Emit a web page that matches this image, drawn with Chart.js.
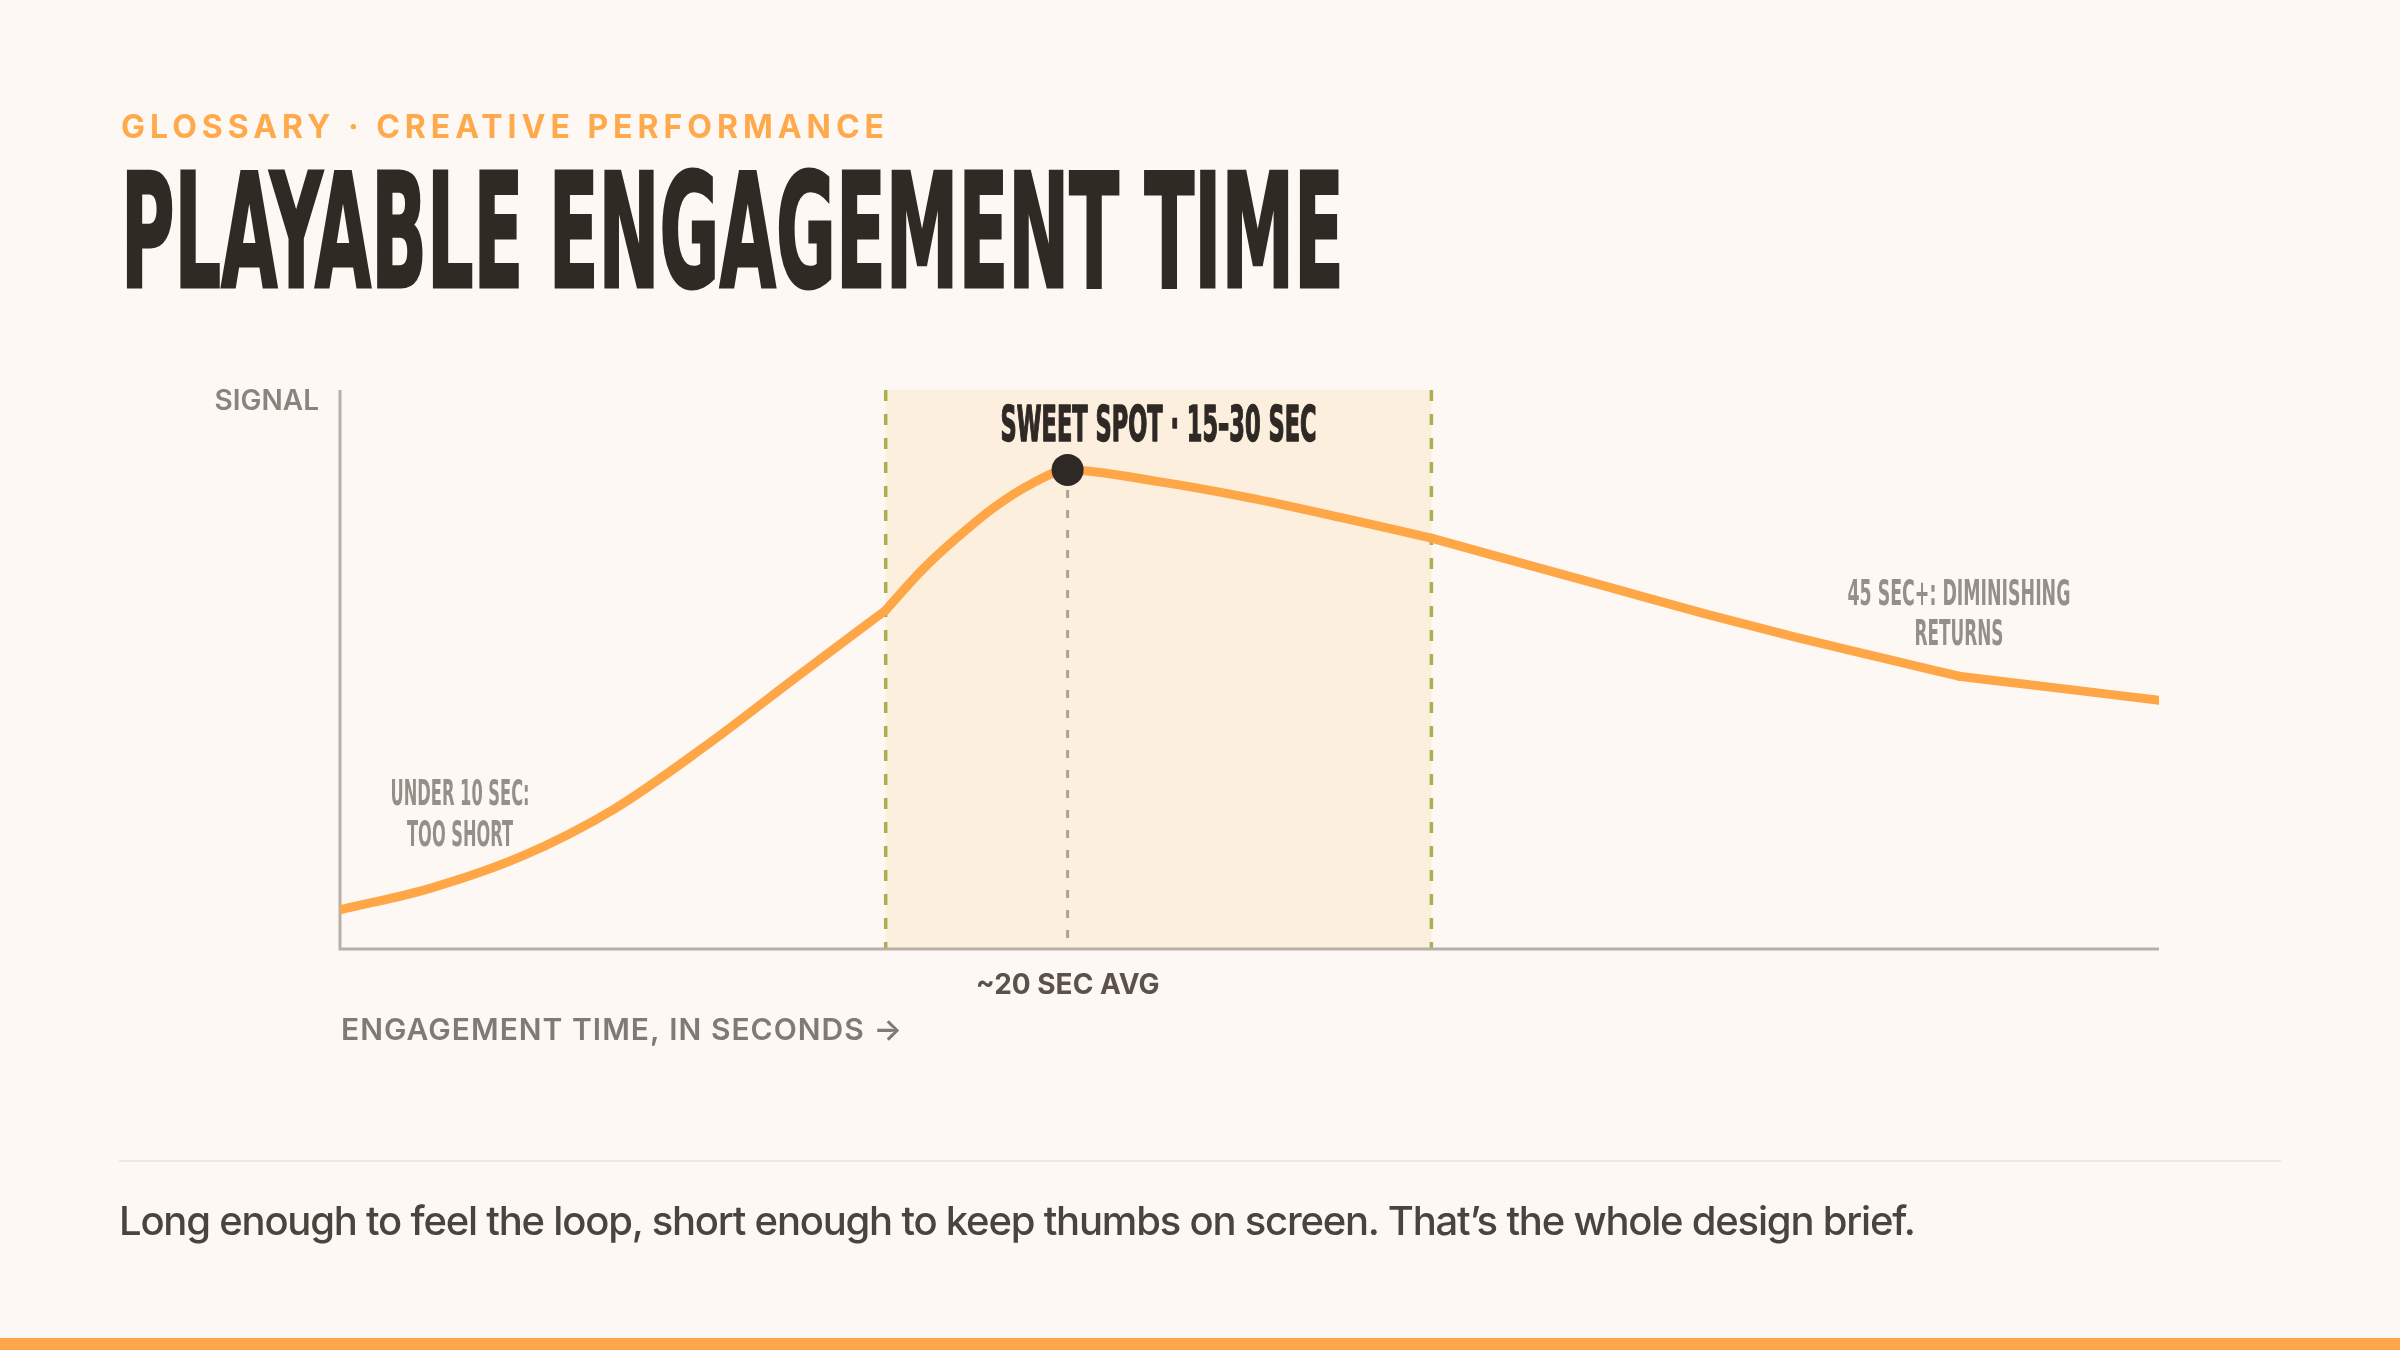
<!DOCTYPE html>
<html>
<head>
<meta charset="utf-8">
<script src="https://cdn.jsdelivr.net/npm/chart.js@4.4.1/dist/chart.umd.min.js"></script>
<style>
html,body{margin:0;padding:0;}
body{width:2400px;height:1350px;background:#fdf8f3;position:relative;overflow:hidden;font-family:Inter,"Noto Sans",sans-serif;}
#chart{position:absolute;left:0;top:0;width:2400px;height:1350px;}
.t{position:absolute;white-space:nowrap;line-height:1;display:inline-block;}
#kicker{left:121px;font-size:32px;font-weight:700;color:#ffa94d;}
#title{left:121px;font-family:"DejaVu Sans Condensed","Liberation Sans Narrow","DejaVu Sans",sans-serif;font-weight:700;font-size:159px;color:#2f2a24;transform-origin:0 0;-webkit-text-stroke:3px #2f2a24;}
#rule{position:absolute;left:119px;top:1160px;width:2162px;height:2px;background:#ece7e1;}
#caption{left:119px;font-size:40px;font-weight:500;color:#4a443e;}
#bar{position:absolute;left:0;bottom:0;width:2400px;height:12px;background:#ffa64a;}
</style>
</head>
<body>
<canvas id="chart" width="2400" height="1350"></canvas>
<div class="t" id="kicker">GLOSSARY · CREATIVE PERFORMANCE</div>
<div class="t" id="title">PLAYABLE ENGAGEMENT TIME</div>
<div id="rule"></div>
<div class="t" id="caption">Long enough to feel the loop, short enough to keep thumbs on screen. That’s the whole design brief.</div>
<div id="bar"></div>
<script>
// ---- data ----
const seconds = [0, 2.5, 5, 7.5, 10, 12.5, 15, 16, 17, 18, 19, 20, 22.5, 25, 27.5, 30, 32.5, 35, 37.5, 40, 42.5, 44.5, 47, 50];
const signal  = [7.0, 10.9, 16.6, 24.9, 36.1, 48.4, 60.6, 67.8, 73.8, 79.1, 83.2, 85.7, 83.6, 80.7, 77.2, 73.5, 69.0, 64.5, 60.0, 55.8, 51.9, 48.8, 46.85, 44.5];
const curveBreaks = [15, 30, 44.5];   // seconds where the curve changes segment
const sweetSpot = [15, 30];
const avgSeconds = [20];
const avgSignal = [85.7];
const xRange = [0, 50];
const yRange = [0, 100];
const labels = {
  yAxis: 'SIGNAL',
  xAxis: 'ENGAGEMENT TIME, IN SECONDS →',
  sweet: 'SWEET SPOT · 15–30 SEC',
  avg: '~20 SEC AVG',
  short: ['UNDER 10 SEC:', 'TOO SHORT'],
  long: ['45 SEC+: DIMINISHING', 'RETURNS']
};
const shortAnchor = [3.3, 25.8, 18.4];   // x sec, line1 y, line2 y
const longAnchor  = [44.5, 61.5, 54.4];

// ---- HTML text placement helpers ----
function setBaseline(el, baseline) {
  const probe = document.createElement('span');
  probe.style.cssText = 'display:inline-block;width:0;height:0;vertical-align:baseline;';
  el.appendChild(probe);
  el.style.top = '0px';
  const off = probe.offsetTop;
  el.removeChild(probe);
  el.style.top = (baseline - off) + 'px';
}
function fitSpacing(el, target) {
  el.style.letterSpacing = '0px';
  const w = el.getBoundingClientRect().width;
  const n = [...el.textContent].length;
  el.style.letterSpacing = ((target - w) / (n - 1)) + 'px';
}
function fitScale(el, target) {
  el.style.transform = 'none';
  const w = el.getBoundingClientRect().width;
  el.style.transform = 'scaleX(' + (target / w) + ')';
}
const kicker = document.getElementById('kicker');
fitSpacing(kicker, 763); setBaseline(kicker, 138);
const title = document.getElementById('title');
fitScale(title, 1223); setBaseline(title, 287);
const caption = document.getElementById('caption');
fitSpacing(caption, 1797); setBaseline(caption, 1235);

// ---- canvas helpers ----
const COND = '"DejaVu Sans Condensed","Liberation Sans Narrow","DejaVu Sans",sans-serif';
function condensed(ctx, text, cx, base, size, color, targetW, stroke) {
  ctx.save();
  ctx.font = 'bold ' + size + 'px ' + COND;
  const w = ctx.measureText(text).width;
  ctx.translate(cx, base);
  ctx.scale(targetW / w, 1);
  ctx.textAlign = 'center';
  ctx.textBaseline = 'alphabetic';
  ctx.fillStyle = color;
  if (stroke) { ctx.lineWidth = stroke; ctx.strokeStyle = color; ctx.lineJoin = 'round'; ctx.strokeText(text, 0, 0); }
  ctx.fillText(text, 0, 0);
  ctx.restore();
}

const decor = {
  id: 'decor',
  beforeDatasetsDraw(chart) {
    const {ctx, chartArea: a, scales: {x, y}} = chart;
    const x1 = x.getPixelForValue(sweetSpot[0]);
    const x2 = x.getPixelForValue(sweetSpot[1]);
    ctx.save();
    ctx.fillStyle = '#fdefdd';
    ctx.fillRect(x1, a.top, x2 - x1, a.bottom - a.top);
    ctx.strokeStyle = '#a9b14f';
    ctx.lineWidth = 3.5;
    ctx.setLineDash([11, 13]);
    [x1, x2].forEach(px => {
      ctx.beginPath(); ctx.moveTo(px, a.top); ctx.lineTo(px, a.bottom); ctx.stroke();
    });
    const ax = x.getPixelForValue(avgSeconds[0]);
    ctx.strokeStyle = '#aba297';
    ctx.lineWidth = 3;
    ctx.setLineDash([8, 12]);
    ctx.beginPath(); ctx.moveTo(ax, y.getPixelForValue(avgSignal[0])); ctx.lineTo(ax, a.bottom); ctx.stroke();
    ctx.setLineDash([]);
    ctx.strokeStyle = '#b7b0a8';
    ctx.lineWidth = 3;
    ctx.beginPath();
    ctx.moveTo(a.left, a.top); ctx.lineTo(a.left, a.bottom); ctx.lineTo(a.right, a.bottom);
    ctx.stroke();
    ctx.restore();
  },
  afterDatasetsDraw(chart) {
    const {ctx, chartArea: a, scales: {x, y}} = chart;
    ctx.save();
    ctx.font = '600 28px Inter, "Noto Sans", sans-serif';
    ctx.fillStyle = '#8a847d';
    ctx.textAlign = 'right';
    ctx.textBaseline = 'alphabetic';
    ctx.fillText(labels.yAxis, a.left - 21, a.top + 20);
    ctx.font = '600 30px Inter, "Noto Sans", sans-serif';
    ctx.textAlign = 'left';
    ctx.fillStyle = '#807a74';
    ctx.letterSpacing = '0px';
    const wx = ctx.measureText(labels.xAxis).width;
    const n = [...labels.xAxis].length;
    ctx.letterSpacing = ((561 - wx) / (n - 1)) + 'px';
    ctx.fillText(labels.xAxis, a.left + 1, a.bottom + 91);
    ctx.letterSpacing = '0px';
    ctx.font = '700 28px Inter, "Noto Sans", sans-serif';
    ctx.fillStyle = '#5a524b';
    ctx.textAlign = 'center';
    ctx.fillText(labels.avg, x.getPixelForValue(avgSeconds[0]), a.bottom + 45);
    ctx.restore();
    const bandMid = x.getPixelForValue((sweetSpot[0] + sweetSpot[1]) / 2);
    condensed(ctx, labels.sweet, bandMid, a.top + 51, 49, '#2e2924', 316, 1.5);
    const sx = x.getPixelForValue(shortAnchor[0]);
    condensed(ctx, labels.short[0], sx, y.getPixelForValue(shortAnchor[1]), 36, '#958f89', 139, 0);
    condensed(ctx, labels.short[1], sx, y.getPixelForValue(shortAnchor[2]), 36, '#958f89', 106, 0);
    const lx = x.getPixelForValue(longAnchor[0]);
    condensed(ctx, labels.long[0], lx, y.getPixelForValue(longAnchor[1]), 35, '#958f89', 223, 0);
    condensed(ctx, labels.long[1], lx, y.getPixelForValue(longAnchor[2]), 35, '#958f89', 89, 0);
  }
};

// split the curve at its breakpoints so each piece keeps its own smooth shape
const edges = [xRange[0], ...curveBreaks, xRange[1]];
const curveSets = [];
for (let k = 0; k < edges.length - 1; k++) {
  const pts = [];
  seconds.forEach((s, i) => { if (s >= edges[k] && s <= edges[k + 1]) pts.push({x: s, y: signal[i]}); });
  curveSets.push({
    label: 'signal ' + k,
    data: pts,
    borderColor: '#ffa647',
    borderWidth: 9,
    pointRadius: 0,
    cubicInterpolationMode: 'monotone',
    borderCapStyle: 'round',
    borderJoinStyle: 'round',
    fill: false,
    order: 1
  });
}

new Chart(document.getElementById('chart').getContext('2d'), {
  type: 'line',
  data: {
    datasets: [
      {
        label: 'avg',
        data: avgSeconds.map((s, i) => ({x: s, y: avgSignal[i]})),
        showLine: false,
        pointRadius: 16,
        pointBackgroundColor: '#2e2924',
        pointBorderWidth: 0,
        order: 0
      },
      ...curveSets
    ]
  },
  options: {
    responsive: false,
    animation: false,
    events: [],
    layout: {padding: {left: 340, right: 241, top: 390, bottom: 401}},
    scales: {
      x: {type: 'linear', min: xRange[0], max: xRange[1], display: false},
      y: {min: yRange[0], max: yRange[1], display: false}
    },
    plugins: {legend: {display: false}, tooltip: {enabled: false}}
  },
  plugins: [decor]
});
</script>
</body>
</html>
